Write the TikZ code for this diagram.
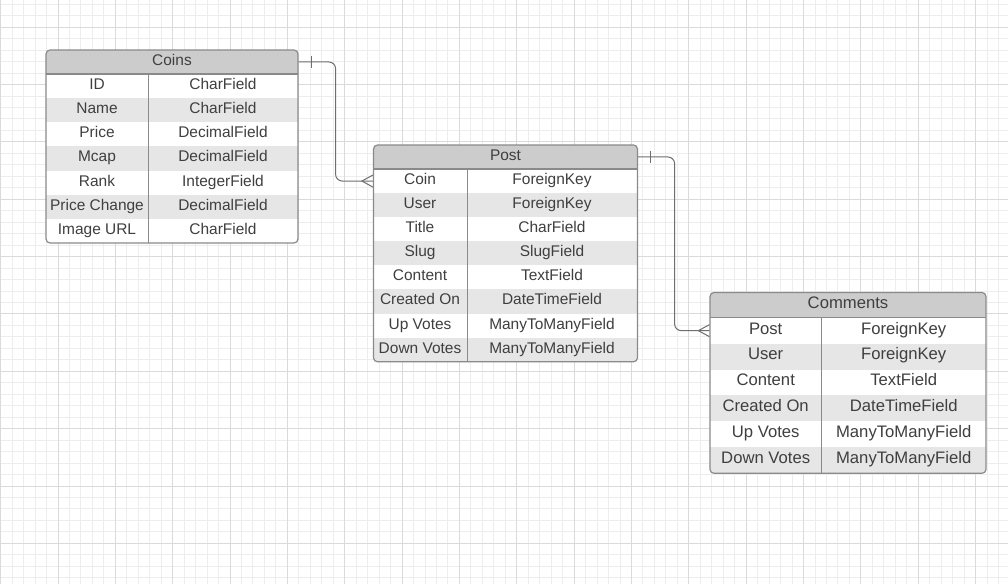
\documentclass[tikz,border=0pt]{standalone}
\usepackage{fontspec}
\setmainfont{Liberation Sans}
\usetikzlibrary{positioning,calc}
\definecolor{gridminor}{HTML}{EDEDED}
\definecolor{gridmajor}{HTML}{DADADA}
\definecolor{headfill}{HTML}{CCCCCC}
\definecolor{rowfill}{HTML}{E6E6E6}
\definecolor{framecol}{HTML}{8A8A8A}
\definecolor{textcol}{HTML}{3F3F3F}
\definecolor{linkcol}{HTML}{6E6E6E}

\tikzset{
    cell/.style={inner sep=0pt, text=textcol, text height=0.72em, text depth=0.21em,
        font=\fontsize{11.6}{13}\selectfont},
    bigcell/.style={cell, font=\fontsize{12.5}{14}\selectfont},
    frame/.style={draw=framecol, line width=0.9pt, rounded corners=3pt, inner sep=0pt},
    sep/.style={draw=framecol, line width=0.75pt},
    link/.style={draw=linkcol, line width=0.75pt, rounded corners=5pt},
    tick/.style={draw=linkcol, line width=0.75pt}
}

\begin{document}
\begin{tikzpicture}[x=0.75pt, y=-0.75pt]
    \useasboundingbox (0,0) rectangle (1008,584);
    \fill[white] (0,0) rectangle (1008,584);
    % grid
    \foreach \i in {0,...,87} \draw[gridminor, line width=0.75pt] ({0.65+11.47*\i},0) -- ++(0,584);
    \foreach \j in {0,...,50} \draw[gridminor, line width=0.75pt] (0,{4.3+11.47*\j}) -- ++(1008,0);
    \foreach \i in {0,...,17} \draw[gridmajor, line width=0.75pt] ({0.65+57.35*\i},0) -- ++(0,584);
    \foreach \j in {0,...,9} \draw[gridmajor, line width=0.75pt] (0,{27.24+57.35*\j}) -- ++(1008,0);

    % Coins
    \begin{scope}
        \clip[rounded corners=3pt] (46,50) rectangle (298,243);
        \fill[white] (46,50) rectangle (298,243);
        \fill[headfill] (46,50) rectangle (298,74);
        \foreach \i in {2,4,6} \fill[rowfill] (46,{74+(\i-1)*24.14}) rectangle (298,{74+\i*24.14});
    \end{scope}
    \draw[sep] (148,74) -- (148,243);
    \draw[sep, line width=1.2pt] (46,74) -- (298,74);
    \node[frame, minimum width=189pt, minimum height=144.75pt] (coins) at (172,146.5) {};
    \node[cell] (coins-title) at (172,62) {Coins};
    \foreach \k/\f [count=\i] in {ID/CharField, Name/CharField, Price/DecimalField,
        Mcap/DecimalField, Rank/IntegerField, Price Change/DecimalField, Image URL/CharField}
    {
        \node[cell] (coins-\i) at (97,{74+(\i-0.5)*24.14}) {\k};
        \node[cell] (coins-\i-type) at (223,{74+(\i-0.5)*24.14}) {\f};
    }

    % Post
    \begin{scope}
        \clip[rounded corners=3pt] (373.5,145) rectangle (637.5,361.8);
        \fill[white] (373.5,145) rectangle (637.5,361.8);
        \fill[headfill] (373.5,145) rectangle (637.5,169);
        \foreach \i in {2,4,6,8} \fill[rowfill] (373.5,{169+(\i-1)*24.1}) rectangle (637.5,{169+\i*24.1});
    \end{scope}
    \draw[sep] (467,169) -- (467,361.8);
    \draw[sep, line width=1.2pt] (373.5,169) -- (637.5,169);
    \node[frame, minimum width=198pt, minimum height=162.6pt] (post) at (505.5,253.4) {};
    \node[cell] (post-title) at (505.5,157) {Post};
    \foreach \k/\f [count=\i] in {Coin/ForeignKey, User/ForeignKey, Title/CharField,
        Slug/SlugField, Content/TextField, Created On/DateTimeField,
        Up Votes/ManyToManyField, Down Votes/ManyToManyField}
    {
        \node[cell] (post-\i) at (420,{169+(\i-0.5)*24.1}) {\k};
        \node[cell] (post-\i-type) at (552,{169+(\i-0.5)*24.1}) {\f};
    }

    % Comments
    \begin{scope}
        \clip[rounded corners=3pt] (710,292.5) rectangle (986,473.3);
        \fill[white] (710,292.5) rectangle (986,473.3);
        \fill[headfill] (710,292.5) rectangle (986,317.7);
        \foreach \i in {2,4,6} \fill[rowfill] (710,{317.7+(\i-1)*25.93}) rectangle (986,{317.7+\i*25.93});
    \end{scope}
    \draw[sep] (821.5,317.7) -- (821.5,473.3);
    \draw[sep, line width=1.2pt] (710,317.7) -- (986,317.7);
    \node[frame, minimum width=207pt, minimum height=135.6pt] (comm) at (848,382.9) {};
    \node[bigcell] (comm-title) at (848,305) {Comments};
    \foreach \k/\f [count=\i] in {Post/ForeignKey, User/ForeignKey, Content/TextField,
        Created On/DateTimeField, Up Votes/ManyToManyField, Down Votes/ManyToManyField}
    {
        \node[bigcell] (comm-\i) at (765.7,{317.7+(\i-0.5)*25.93}) {\k};
        \node[bigcell] (comm-\i-type) at (903.7,{317.7+(\i-0.5)*25.93}) {\f};
    }

    % relations
    \draw[link] (coins.east |- coins-title) -- ++(37,0) |- (post.west |- post-1);
    \draw[tick] ($(coins.east |- coins-title)+(12.5,-6)$) -- ++(0,12);
    \coordinate (post-crow) at ($(post.west |- post-1)+(-11,0)$);
    \draw[tick] ($(post-crow)+(11,-6)$) -- (post-crow) -- ($(post-crow)+(11,6)$);

    \draw[link] (post.east |- post-title) -- ++(36.5,0) |- (comm.west |- comm-1);
    \draw[tick] ($(post.east |- post-title)+(12,-6)$) -- ++(0,12);
    \coordinate (comm-crow) at ($(comm.west |- comm-1)+(-11,0)$);
    \draw[tick] ($(comm-crow)+(11,-6)$) -- (comm-crow) -- ($(comm-crow)+(11,6)$);
\end{tikzpicture}
\end{document}
